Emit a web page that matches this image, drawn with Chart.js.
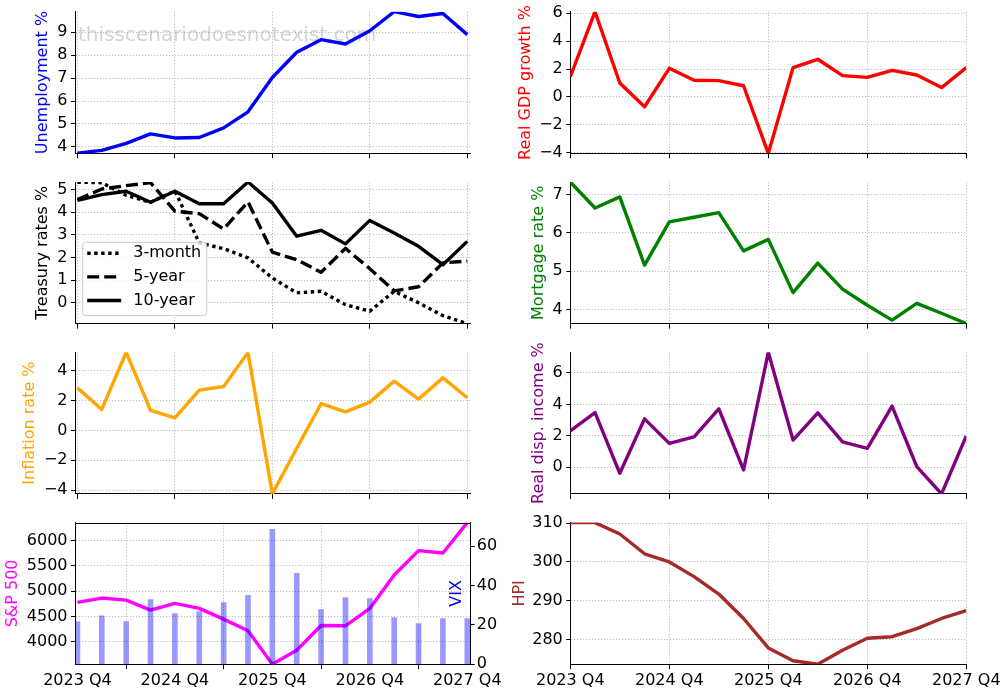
<!DOCTYPE html>
<html>
<head>
<meta charset="utf-8">
<script src="https://cdn.jsdelivr.net/npm/chart.js@4"></script>
<style>
html,body{margin:0;padding:0;background:#fff;}
#fig{position:relative;width:1007px;height:693px;overflow:hidden;background:#fff;}
#fig canvas{position:absolute;}
</style>
</head>
<body>
<div id="fig"></div>
<script>
// ---------------- DATA ----------------
const quarters = ["2023 Q4","2024 Q1","2024 Q2","2024 Q3","2024 Q4","2025 Q1","2025 Q2","2025 Q3","2025 Q4",
                  "2026 Q1","2026 Q2","2026 Q3","2026 Q4","2027 Q1","2027 Q2","2027 Q3","2027 Q4"];
const xTickIdx = [0, 4, 8, 12, 16];

const unemployment = [3.72, 3.85, 4.15, 4.57, 4.39, 4.41, 4.83, 5.53, 7.03, 8.13, 8.68, 8.49, 9.07, 9.90, 9.69, 9.82, 8.90];
const gdpGrowth    = [1.45, 6.11, 1.00, -0.70, 2.05, 1.20, 1.17, 0.80, -4.04, 2.10, 2.70, 1.53, 1.40, 1.90, 1.57, 0.67, 2.10];
const tsy3m        = [5.33, 5.31, 4.75, 4.44, 4.95, 2.64, 2.39, 1.98, 1.09, 0.43, 0.50, -0.09, -0.38, 0.50, -0.01, -0.58, -0.93];
const tsy5y        = [4.56, 5.03, 5.18, 5.31, 4.05, 3.94, 3.26, 4.46, 2.23, 1.90, 1.34, 2.40, 1.50, 0.52, 0.70, 1.76, 1.84];
const tsy10y       = [4.53, 4.78, 4.93, 4.44, 4.93, 4.38, 4.38, 5.34, 4.41, 2.94, 3.20, 2.60, 3.64, 3.08, 2.49, 1.68, 2.71];
const mortgage     = [7.33, 6.65, 6.94, 5.16, 6.29, 6.41, 6.53, 5.53, 5.83, 4.44, 5.21, 4.53, 4.11, 3.72, 4.16, 3.90, 3.63];
const inflation    = [2.84, 1.40, 5.22, 1.33, 0.84, 2.69, 2.93, 5.20, -4.25, -1.20, 1.78, 1.24, 1.89, 3.29, 2.09, 3.51, 2.18];
const realDispInc  = [2.32, 3.48, -0.38, 3.08, 1.52, 1.94, 3.72, -0.17, 7.31, 1.73, 3.46, 1.62, 1.20, 3.89, 0.04, -1.69, 2.00];
const sp500        = [4779, 4865, 4825, 4627, 4759, 4660, 4449, 4218, 3558, 3835, 4323, 4317, 4660, 5320, 5802, 5756, 6356];
const vix          = [21.7, 24.6, 21.7, 32.9, 25.7, 26.8, 31.4, 35.0, 68.6, 46.2, 27.8, 33.9, 33.4, 23.7, 20.6, 23.2, 23.2];
const hpi          = [310.15, 310.15, 307.2, 302.1, 300.0, 296.2, 291.7, 285.4, 277.8, 274.5, 273.6, 277.2, 280.3, 280.7, 282.8, 285.4, 287.4];

const unempTicks = [4, 5, 6, 7, 8, 9];
const gdpTicks   = [-4, -2, 0, 2, 4, 6];
const tsyTicks   = [0, 1, 2, 3, 4, 5];
const mortTicks  = [4, 5, 6, 7];
const inflTicks  = [-4, -2, 0, 2, 4];
const rdiTicks   = [0, 2, 4, 6];
const spTicks    = [4000, 4500, 5000, 5500, 6000];
const vixTicks   = [0, 20, 40, 60];
const hpiTicks   = [280, 290, 300, 310];

// ---------------- STYLE / LAYOUT ----------------
const FONT = 'DejaVu Sans';
Chart.defaults.font.family = FONT;
Chart.defaults.font.size = 16;
Chart.defaults.color = '#000';
Chart.defaults.animation = false;

const GRID = '#bdbdbd';
const LW = 3.4;
const fmt = v => String(v).replace('-', '\u2212');
const pts = arr => arr.map((y, i) => ({x: i, y}));
const fig = document.getElementById('fig');

const COLS = [
  {left: 0,   width: 512, areaL: 75,    areaR: 470.7, xmin: -0.1, xmax: 16.14},
  {left: 498, width: 509, areaL: 570.3, areaR: 966.3, xmin: 0,    xmax: 16}
];
const rowTop = r => 11.7 + 170.3 * r;
const AREA_H = 141.6;

const titlesPlugin = {
  id: 'figExtras',
  beforeDatasetsDraw(chart, args, opts) {
    const {ctx, chartArea: a} = chart;
    if (opts.watermark) {
      ctx.save();
      ctx.font = '20px "' + FONT + '"';
      ctx.fillStyle = 'rgba(150,150,150,0.42)';
      ctx.textAlign = 'left';
      ctx.textBaseline = 'alphabetic';
      ctx.fillText(opts.watermark, a.left + 3, a.top + 29.5);
      ctx.restore();
    }
  },
  afterDatasetsDraw(chart, args, opts) {
    const {ctx, chartArea: a} = chart;
    if (opts.legend) {
      const x0 = a.left + 7.7, y0 = a.top + 60.3, w = 124, h = 73.3;
      ctx.save();
      ctx.beginPath();
      if (ctx.roundRect) ctx.roundRect(x0, y0, w, h, 3); else ctx.rect(x0, y0, w, h);
      ctx.fillStyle = 'rgba(255,255,255,0.8)';
      ctx.fill();
      ctx.strokeStyle = '#cccccc';
      ctx.lineWidth = 1;
      ctx.stroke();
      chart.data.datasets.forEach((ds, i) => {
        const cy = y0 + 11 + i * 23.6;
        ctx.beginPath();
        ctx.setLineDash(ds.borderDash || []);
        ctx.strokeStyle = ds.borderColor;
        ctx.lineWidth = ds.borderWidth;
        ctx.moveTo(x0 + 4.5, cy);
        ctx.lineTo(x0 + 38.5, cy);
        ctx.stroke();
        ctx.setLineDash([]);
        ctx.fillStyle = '#000';
        ctx.font = '16px "' + FONT + '"';
        ctx.textAlign = 'left';
        ctx.textBaseline = 'middle';
        ctx.fillText(ds.label, x0 + 50.6, cy);
      });
      ctx.restore();
    }
  },
  afterDraw(chart, args, opts) {
    const {ctx, chartArea: a} = chart;
    ctx.save();
    if (opts.topSpine) {
      ctx.strokeStyle = '#000';
      ctx.lineWidth = 1;
      ctx.beginPath();
      ctx.moveTo(a.left, Math.round(a.top) + 0.5);
      ctx.lineTo(a.right, Math.round(a.top) + 0.5);
      ctx.stroke();
    }
    (opts.titles || []).forEach(t => {
      ctx.save();
      const x = t.fromRight ? a.right - t.x : t.x;
      ctx.translate(x, (a.top + a.bottom) / 2);
      ctx.rotate(-Math.PI / 2);
      ctx.font = '16px "' + FONT + '"';
      ctx.fillStyle = t.color;
      ctx.textAlign = 'center';
      ctx.textBaseline = 'middle';
      ctx.fillText(t.text, 0, 0);
      ctx.restore();
    });
    ctx.restore();
  }
};

function panel(col, row, spec) {
  const c = COLS[col];
  const areaT = rowTop(row), areaB = areaT + AREA_H;
  const top = Math.floor(areaT) - 20;
  const bottomLabels = row === 3;
  const height = Math.ceil(areaB + (bottomLabels ? 32 : 16)) - top;
  const padTop = areaT - top;
  const xH = height - (areaB - top);
  const yW = c.areaL - c.left;
  const rightW = c.left + c.width - c.areaR;

  const canvas = document.createElement('canvas');
  canvas.width = c.width;
  canvas.height = height;
  canvas.style.left = c.left + 'px';
  canvas.style.top = top + 'px';
  fig.appendChild(canvas);

  const allVals = spec.datasets.filter(d => d.yAxisID !== 'y2').flatMap(d => d.data.map(p => p.y));
  const scales = {
    x: {
      type: 'linear', min: c.xmin, max: c.xmax, offset: false,
      afterBuildTicks: s => { s.ticks = xTickIdx.map(v => ({value: v})); },
      afterFit: s => { s.height = xH; },
      ticks: {display: bottomLabels, autoSkip: false, maxRotation: 0, minRotation: 0, padding: 2,
              callback: v => quarters[v], font: {size: 16}, color: '#000'},
      grid: {color: GRID, lineWidth: 1, drawTicks: true, tickLength: 5, tickColor: '#000', tickWidth: 1, tickBorderDash: []},
      border: {display: true, color: '#000', width: 1, dash: [1.2, 1.8]}
    },
    y: {
      type: 'linear', position: 'left',
      min: Math.min(...allVals), max: Math.max(...allVals),
      afterBuildTicks: s => { s.ticks = spec.yTicks.map(v => ({value: v})); },
      afterFit: s => { s.width = yW; },
      ticks: {padding: 3.5, callback: fmt, font: {size: 16}, color: '#000'},
      grid: {color: GRID, lineWidth: 1, drawTicks: true, tickLength: 4, tickColor: '#000', tickWidth: 1, tickBorderDash: []},
      border: {display: true, color: '#000', width: 1, dash: [1.2, 1.8]}
    }
  };
  if (spec.y2) {
    scales.y2 = {
      type: 'linear', position: 'right', min: spec.y2.min, max: spec.y2.max,
      afterBuildTicks: s => { s.ticks = spec.y2.ticks.map(v => ({value: v})); },
      afterFit: s => { s.width = rightW; },
      ticks: {padding: 2, callback: fmt, font: {size: 16}, color: '#000'},
      grid: {drawOnChartArea: false, drawTicks: true, tickLength: 4, tickColor: '#000', tickWidth: 1, tickBorderDash: []},
      border: {display: true, color: '#000', width: 1}
    };
  }
  const titles = [{text: spec.title, color: spec.titleColor, x: spec.titleX}];
  if (spec.y2) titles.push({text: spec.y2.title, color: spec.y2.color, x: 13.4, fromRight: true});

  return new Chart(canvas, {
    type: 'line',
    data: {datasets: spec.datasets},
    options: {
      responsive: false,
      animation: false,
      devicePixelRatio: 1,
      layout: {padding: {top: padTop, left: 0, bottom: 0, right: spec.y2 ? 0 : rightW}},
      scales,
      plugins: {
        legend: {display: false},
        tooltip: {enabled: false},
        figExtras: {titles, watermark: spec.watermark, legend: spec.legend, topSpine: spec.topSpine}
      },
      elements: {point: {radius: 0}, line: {tension: 0}}
    },
    plugins: [titlesPlugin]
  });
}

const lineDs = (data, color, extra) => Object.assign({
  data: pts(data), borderColor: color, backgroundColor: color, borderWidth: LW,
  pointRadius: 0, tension: 0, fill: false, borderJoinStyle: 'round', clip: 0
}, extra || {});

// Left column
panel(0, 0, {
  datasets: [lineDs(unemployment, '#0000ff', {label: 'Unemployment %'})],
  yTicks: unempTicks, title: 'Unemployment %', titleColor: '#0000ff', titleX: 42.7,
  watermark: 'thisscenariodoesnotexist.com'
});
panel(0, 1, {
  datasets: [
    lineDs(tsy3m, '#000000', {label: '3-month', borderDash: [3.4, 3.6]}),
    lineDs(tsy5y, '#000000', {label: '5-year', borderDash: [12, 5]}),
    lineDs(tsy10y, '#000000', {label: '10-year'})
  ],
  yTicks: tsyTicks, title: 'Treasury rates %', titleColor: '#000000', titleX: 43, legend: true
});
panel(0, 2, {
  datasets: [lineDs(inflation, '#ffa500', {label: 'Inflation rate %'})],
  yTicks: inflTicks, title: 'Inflation rate %', titleColor: '#ffa500', titleX: 29.5
});
panel(0, 3, {
  datasets: [
    {type: 'bar', label: 'VIX', data: pts(vix), yAxisID: 'y2', backgroundColor: 'rgba(0,0,255,0.4)',
     borderWidth: 0, barThickness: 5, order: 0},
    lineDs(sp500, '#ff00ff', {label: 'S&P 500', order: 1})
  ],
  yTicks: spTicks, title: 'S&P 500', titleColor: '#ff00ff', titleX: 12.6, topSpine: true,
  y2: {min: 0, max: Math.max(...vix) * 1.05, ticks: vixTicks, title: 'VIX', color: '#0000ff'}
});

// Right column
panel(1, 0, {
  datasets: [lineDs(gdpGrowth, '#ff0000', {label: 'Real GDP growth %'})],
  yTicks: gdpTicks, title: 'Real GDP growth %', titleColor: '#ff0000', titleX: 28
});
panel(1, 1, {
  datasets: [lineDs(mortgage, '#008000', {label: 'Mortgage rate %'})],
  yTicks: mortTicks, title: 'Mortgage rate %', titleColor: '#008000', titleX: 41.3
});
panel(1, 2, {
  datasets: [lineDs(realDispInc, '#800080', {label: 'Real disp. income %'})],
  yTicks: rdiTicks, title: 'Real disp. income %', titleColor: '#800080', titleX: 41.3
});
panel(1, 3, {
  datasets: [lineDs(hpi, '#a52a2a', {label: 'HPI'})],
  yTicks: hpiTicks, title: 'HPI', titleColor: '#a52a2a', titleX: 22
});
</script>
</body>
</html>
